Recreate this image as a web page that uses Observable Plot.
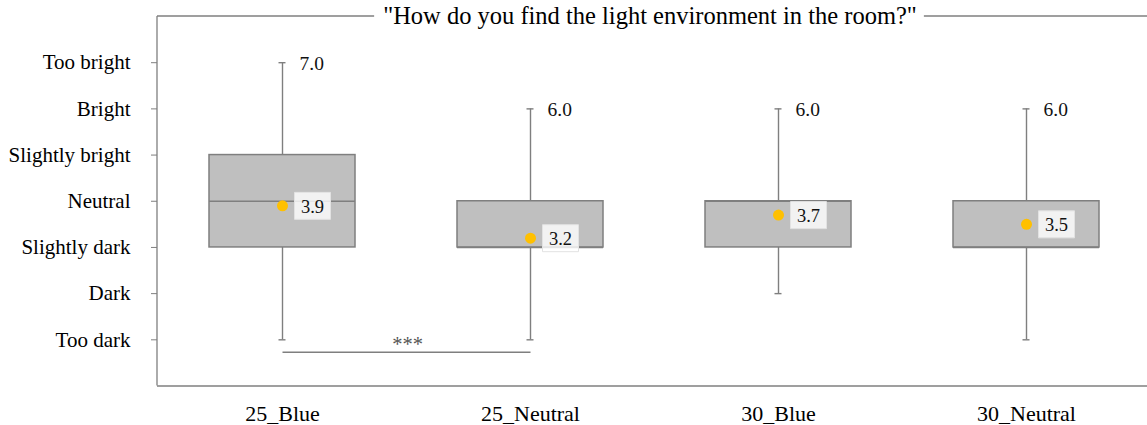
<!DOCTYPE html>
<html>
<head>
<meta charset="utf-8">
<script src="https://cdn.jsdelivr.net/npm/d3@7"></script>
<script src="https://cdn.jsdelivr.net/npm/@observablehq/plot@0.6"></script>
<style>
  html, body { margin: 0; padding: 0; background: #fff; }
  svg text { font-family: "Liberation Serif", "Times New Roman", serif; }
</style>
</head>
<body>
<div id="chart"></div>
<script>
// ---- data ----
const title = '"How do you find the light environment in the room?"';
const categories = ["25_Blue", "25_Neutral", "30_Blue", "30_Neutral"];
const mins    = [1, 1, 2, 1];
const q1s     = [3, 3, 3, 3];
const medians = [4, 3, 4, 3];
const q3s     = [5, 4, 4, 4];
const maxs    = [7, 6, 6, 6];
const means   = [3.9, 3.2, 3.7, 3.5];
const levelValues = [1, 2, 3, 4, 5, 6, 7];
const levelLabels = ["Too dark", "Dark", "Slightly dark", "Neutral", "Slightly bright", "Bright", "Too bright"];
const sigFrom = "25_Blue";
const sigTo = "25_Neutral";
const sigLabel = "***";
const sigLevel = 0.73;

// table built from the arrays
const rows = categories.map((c, i) => ({
  cat: c, min: mins[i], q1: q1s[i], median: medians[i], q3: q3s[i], max: maxs[i], mean: means[i]
}));

const gray = "#7f7f7f";
const labelBox = { draw(ctx) { ctx.rect(-18, -13.5, 36, 27); } };

const chart = Plot.plot({
  width: 1147,
  height: 425,
  marginLeft: 157,
  marginRight: 0,
  marginTop: 16,
  marginBottom: 39.5,
  style: { fontFamily: "Liberation Serif", fontSize: "20px", color: "#000", background: "#fff" },
  x: { domain: categories, range: [157, 1152], paddingInner: 0.41, paddingOuter: 0.205, label: null },
  y: { domain: [0, 8], label: null },
  marks: [
    Plot.ruleY([0], { stroke: gray, strokeWidth: 1.3 }),
    Plot.axisY({
      ticks: levelValues,
      tickFormat: d => levelLabels[d - 1],
      tickSize: 6, tickPadding: 21, fontSize: 21, stroke: gray, fill: "#000", label: null
    }),
    Plot.axisX({ tickSize: 0, tickPadding: 19, fontSize: 22, fill: "#000", label: null }),
    // whiskers
    Plot.ruleX(rows, { x: "cat", y1: "min", y2: "q1", stroke: gray, strokeWidth: 1.4 }),
    Plot.ruleX(rows, { x: "cat", y1: "q3", y2: "max", stroke: gray, strokeWidth: 1.4 }),
    Plot.tickY(rows, { x: "cat", y: "min", stroke: gray, strokeWidth: 1.4, insetLeft: 69.5, insetRight: 69.5 }),
    Plot.tickY(rows, { x: "cat", y: "max", stroke: gray, strokeWidth: 1.4, insetLeft: 69.5, insetRight: 69.5 }),
    // boxes
    Plot.barY(rows, { x: "cat", y1: "q1", y2: "q3", fill: "#bfbfbf", stroke: gray, strokeWidth: 1.5, inset: 0 }),
    Plot.tickY(rows, { x: "cat", y: "median", stroke: gray, strokeWidth: 1.6 }),
    // max labels
    Plot.text(rows, { x: "cat", y: "max", text: d => d.max.toFixed(1), dx: 17, dy: 1, textAnchor: "start", fontSize: 19.5, fill: "#111" }),
    // mean markers and labels
    Plot.dot(rows, { x: "cat", y: "mean", r: 5.5, fill: "#ffc000", stroke: "none" }),
    Plot.dot(rows, { x: "cat", y: "mean", symbol: labelBox, dx: 30, fill: "#fff", fillOpacity: 0.8, stroke: "#e2e2e2", strokeWidth: 1 }),
    Plot.text(rows, { x: "cat", y: "mean", text: d => d.mean.toFixed(1), dx: 30, dy: 1, fontSize: 18.5, fill: "#111" }),
    // significance bracket
    Plot.link([{ a: sigFrom, b: sigTo, y: sigLevel }], { x1: "a", x2: "b", y1: "y", y2: "y", stroke: gray, strokeWidth: 1.4 }),
    Plot.text([{ a: sigFrom, y: sigLevel, t: sigLabel }], { x: "a", y: "y", text: "t", dx: 125, dy: -8, fontSize: 20.5, fill: "#555" })
  ]
});

document.getElementById("chart").appendChild(chart);

// frame: left line and top line broken by the title
const svg = d3.select(chart);
const ys = chart.scale("y");
const yTop = ys.apply(8), yBot = ys.apply(0);
const left = 157, right = 1147;
svg.append("line").attr("x1", left).attr("x2", left).attr("y1", yTop).attr("y2", yBot)
  .attr("stroke", gray).attr("stroke-width", 1.3);
const t = svg.append("text")
  .attr("x", 650).attr("y", yTop).attr("dy", "0.32em")
  .attr("text-anchor", "middle")
  .attr("font-size", 24.5)
  .attr("fill", "#000")
  .text(title);
const bb = t.node().getBBox();
svg.append("line").attr("x1", left).attr("x2", bb.x - 9).attr("y1", yTop).attr("y2", yTop)
  .attr("stroke", gray).attr("stroke-width", 1.3);
svg.append("line").attr("x1", bb.x + bb.width + 7).attr("x2", right).attr("y1", yTop).attr("y2", yTop)
  .attr("stroke", gray).attr("stroke-width", 1.3);
</script>
</body>
</html>
